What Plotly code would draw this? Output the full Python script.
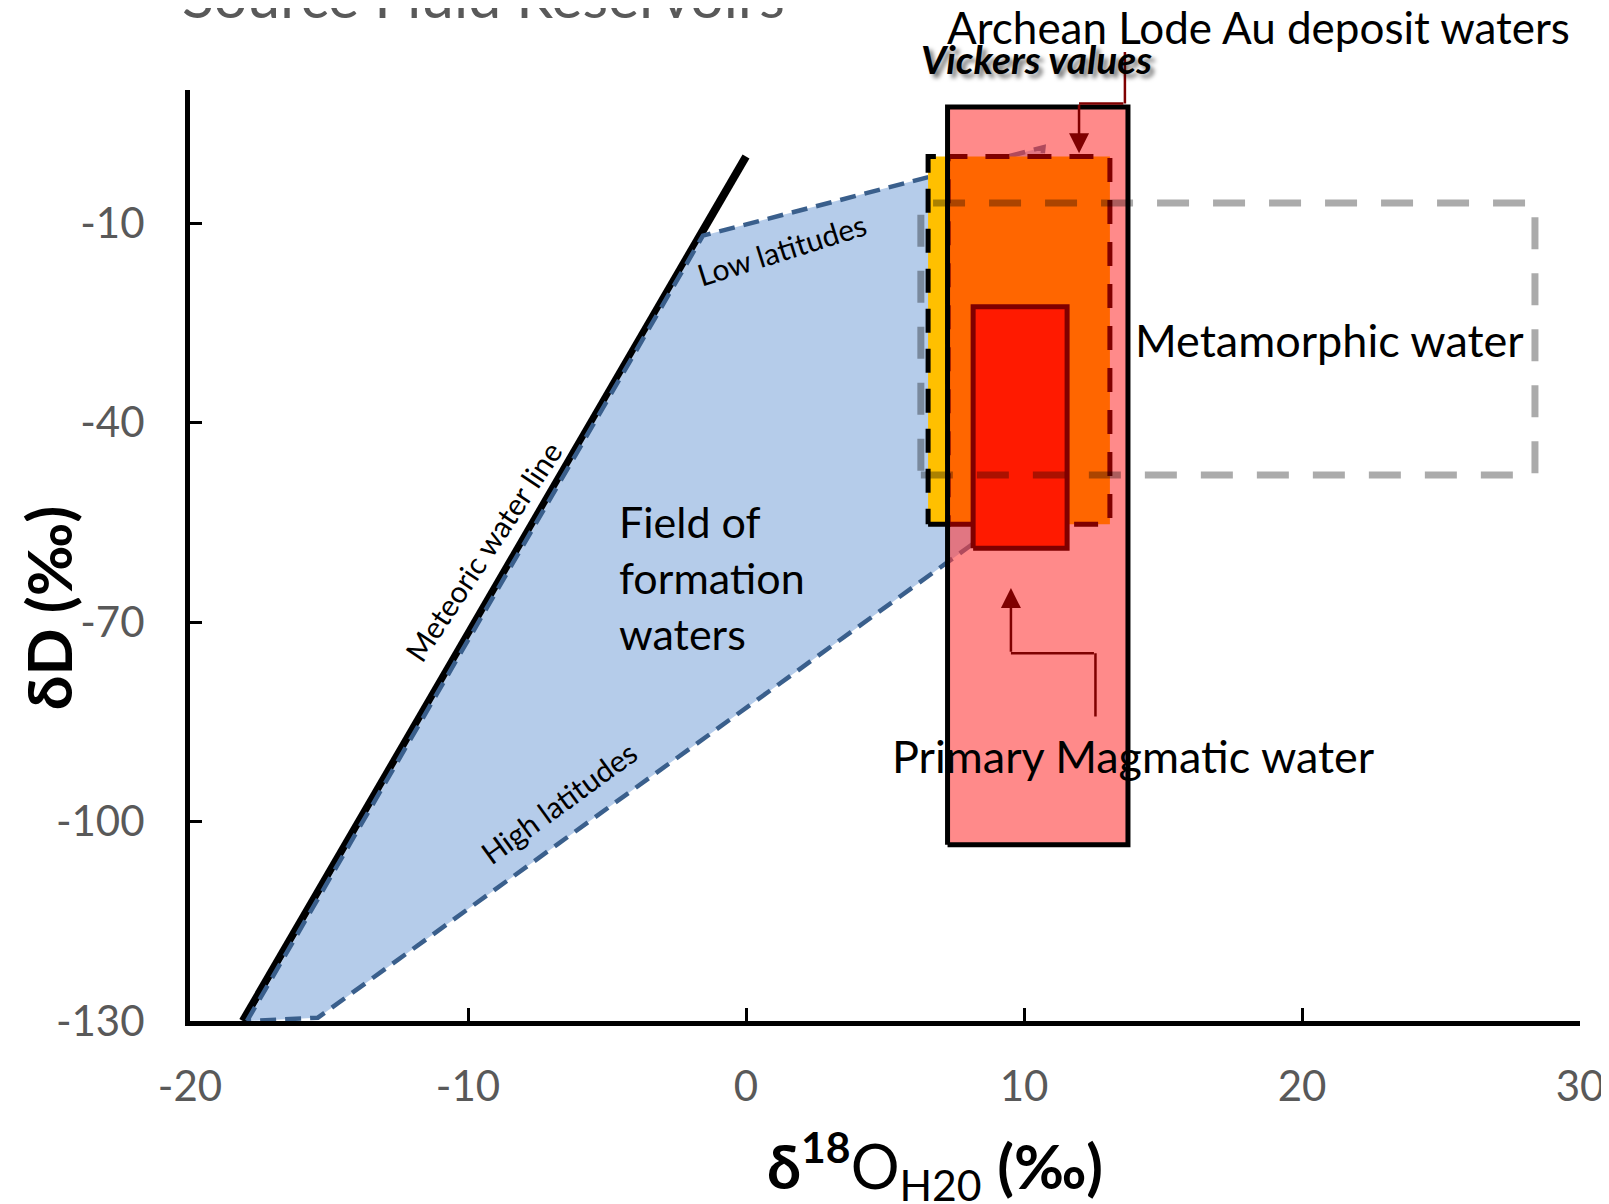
import plotly.graph_objects as go

# ---------------- data ----------------
x_ticks = [-20, -10, 0, 10, 20, 30]
y_ticks = [-10, -40, -70, -100, -130]
x_range = [-20, 30]
y_range = [-130, 10]

# Meteoric water line
mwl_x = [-18.1, 0.0]
mwl_d = [-130.0, 0.0]

# Field of formation waters polygon
fw_x = [-17.95, -1.55, 10.7, 9.3, -15.4, -17.95]
fw_d = [-130.0, -11.9, 1.4, -54.8, -129.5, -130.0]

# Archean Lode Au deposit waters (box)
au_x = [7.25, 13.74]
au_d = [-103.5, 7.44]

# Vickers values (yellow strip + orange box)
vk_yellow_x = [6.55, 7.27]
vk_orange_x = [7.27, 13.09]
vk_d = [-55.3, 0.0]

# Primary magmatic water
pm_x = [8.17, 11.55]
pm_d = [-58.9, -22.6]

# Metamorphic water
mt_x = [6.29, 28.38]
mt_d = [-47.9, -7.0]

# Elbow connectors (last point = arrow tip)
vk_conn_x = [13.63, 13.63, 11.98, 11.98]
vk_conn_d = [15.95, 7.98, 7.98, 0.5]
pm_conn_x = [12.57, 12.57, 9.53, 9.53]
pm_conn_d = [-84.45, -74.7, -74.7, -64.9]

FONT = "Lato, 'Noto Sans', sans-serif"


def rect(xs, ys):
    x0, x1 = xs
    y0, y1 = ys
    return [x0, x1, x1, x0, x0], [y0, y0, y1, y1, y0]


def xp(v):
    return (v - x_range[0]) / (x_range[1] - x_range[0])


def yp(v):
    return (v - y_range[0]) / (y_range[1] - y_range[0])


fig = go.Figure()

# meteoric water line
fig.add_trace(go.Scatter(x=mwl_x, y=mwl_d, mode="lines",
                         line=dict(color="black", width=8),
                         hoverinfo="skip", showlegend=False))

# formation waters field
fig.add_trace(go.Scatter(x=fw_x, y=fw_d, mode="lines", fill="toself",
                         fillcolor="rgb(181,204,234)",
                         line=dict(color="rgb(58,95,140)", width=4.5, dash="16px,9px"),
                         hoverinfo="skip", showlegend=False))

# Archean box fill (semi-transparent)
rx, ry = rect(au_x, au_d)
fig.add_trace(go.Scatter(x=rx, y=ry, mode="lines", fill="toself",
                         fillcolor="rgba(255,60,60,0.6)",
                         line=dict(width=0, color="rgba(0,0,0,0)"),
                         hoverinfo="skip", showlegend=False))

# Vickers yellow strip
rx, ry = rect(vk_yellow_x, vk_d)
fig.add_trace(go.Scatter(x=rx, y=ry, mode="lines", fill="toself",
                         fillcolor="rgb(255,192,0)",
                         line=dict(color="black", width=5, dash="24px,16px"),
                         hoverinfo="skip", showlegend=False))

# Vickers orange box
rx, ry = rect(vk_orange_x, vk_d)
fig.add_trace(go.Scatter(x=rx, y=ry, mode="lines", fill="toself",
                         fillcolor="rgb(255,102,0)",
                         line=dict(color="rgb(127,0,0)", width=5, dash="24px,18px"),
                         hoverinfo="skip", showlegend=False))

# Archean box outline
rx, ry = rect(au_x, au_d)
fig.add_trace(go.Scatter(x=rx, y=ry, mode="lines",
                         line=dict(color="black", width=5),
                         hoverinfo="skip", showlegend=False))

# Primary magmatic box
rx, ry = rect(pm_x, pm_d)
fig.add_trace(go.Scatter(x=rx, y=ry, mode="lines", fill="toself",
                         fillcolor="rgb(255,26,0)",
                         line=dict(color="rgb(127,0,0)", width=5),
                         hoverinfo="skip", showlegend=False))

# Metamorphic water dashed box
rx, ry = rect(mt_x, mt_d)
fig.add_trace(go.Scatter(x=rx, y=ry, mode="lines",
                         line=dict(color="rgba(0,0,0,0.33)", width=7, dash="32px,24px"),
                         hoverinfo="skip", showlegend=False))

annotations = []


def connector(xs, ys):
    n = len(xs)
    for i in range(n - 1):
        last = (i == n - 2)
        annotations.append(dict(
            x=xs[i + 1], y=ys[i + 1], ax=xs[i], ay=ys[i],
            xref="x", yref="y", axref="x", ayref="y",
            text="", showarrow=True,
            arrowhead=2 if last else 0, arrowsize=1.6 if last else 1,
            arrowwidth=2.5, arrowcolor="rgb(127,0,0)",
            standoff=0, startstandoff=0))


connector(vk_conn_x, vk_conn_d)
connector(pm_conn_x, pm_conn_d)

# Text labels
annotations += [
    dict(x=xp(7.16), y=yp(19.5), xref="paper", yref="paper",
         text="Archean Lode Au deposit waters",
         showarrow=False, xanchor="left", yanchor="middle",
         font=dict(family=FONT, size=44, color="black")),
    dict(x=xp(6.22), y=yp(14.6), xref="paper", yref="paper",
         text="<b><i>Vickers values</i></b>",
         showarrow=False, xanchor="left", yanchor="middle",
         font=dict(family=FONT, size=39, color="black",
                   shadow="4px 4px 4px rgba(0,0,0,0.5)")),
    dict(x=13.92, y=-27.6, xref="x", yref="y", text="Metamorphic water",
         showarrow=False, xanchor="left", yanchor="middle",
         font=dict(family=FONT, size=45, color="black")),
    dict(x=5.18, y=-90.2, xref="x", yref="y", text="Primary Magmatic water",
         showarrow=False, xanchor="left", yanchor="middle",
         font=dict(family=FONT, size=45, color="black")),
    dict(x=-4.64, y=-63.3, xref="x", yref="y", text="Field of<br>formation<br>waters",
         showarrow=False, xanchor="left", yanchor="middle", align="left",
         font=dict(family=FONT, size=43, color="black")),
    dict(x=1.29, y=-13.9, xref="x", yref="y", text="Low latitudes",
         showarrow=False, xanchor="center", yanchor="middle", textangle=-17.4,
         font=dict(family=FONT, size=30, color="black")),
    dict(x=-9.46, y=-59.3, xref="x", yref="y", text="Meteoric water line",
         showarrow=False, xanchor="center", yanchor="middle", textangle=-56.4,
         font=dict(family=FONT, size=30, color="black")),
    dict(x=-6.73, y=-97.1, xref="x", yref="y", text="High latitudes",
         showarrow=False, xanchor="center", yanchor="middle", textangle=-36,
         font=dict(family=FONT, size=30, color="black")),
    # title (cut at top)
    dict(x=-0.0075, y=1.101, xref="paper", yref="paper", text="Source Fluid Reservoirs",
         showarrow=False, xanchor="left", yanchor="middle",
         font=dict(family=FONT, size=59, color="#595959")),
    # axis titles
    dict(x=-0.102, y=0.4436, xref="paper", yref="paper", text="<b>δD (‰)</b>",
         showarrow=False, xanchor="center", yanchor="middle", textangle=-90,
         font=dict(family=FONT, size=62, color="black")),
    dict(x=0.536, y=-0.155, xref="paper", yref="paper",
         text="<b>δ<sup>18</sup></b>O<sub>H20</sub> <b>(‰)</b>",
         showarrow=False, xanchor="center", yanchor="middle",
         font=dict(family=FONT, size=61, color="black")),
]

fig.update_layout(
    width=1601, height=1196,
    margin=dict(l=182, r=29, t=82, b=183, autoexpand=False),
    paper_bgcolor="white", plot_bgcolor="white",
    showlegend=False,
    annotations=annotations,
    xaxis=dict(range=x_range, tickvals=x_ticks, ticktext=[str(v) for v in x_ticks],
               showgrid=False, zeroline=False, showline=True, linecolor="black",
               linewidth=5, ticks="inside", ticklen=13, tickwidth=3, tickcolor="black",
               tickfont=dict(family=FONT, size=42, color="#595959"),
               ticklabelstandoff=25),
    yaxis=dict(range=y_range, tickvals=y_ticks, ticktext=[str(v) for v in y_ticks],
               showgrid=False, zeroline=False, showline=True, linecolor="black",
               linewidth=5, ticks="inside", ticklen=12, tickwidth=3, tickcolor="black",
               tickfont=dict(family=FONT, size=42, color="#595959"),
               ticklabelstandoff=32),
)

fig.write_html("out.html")
